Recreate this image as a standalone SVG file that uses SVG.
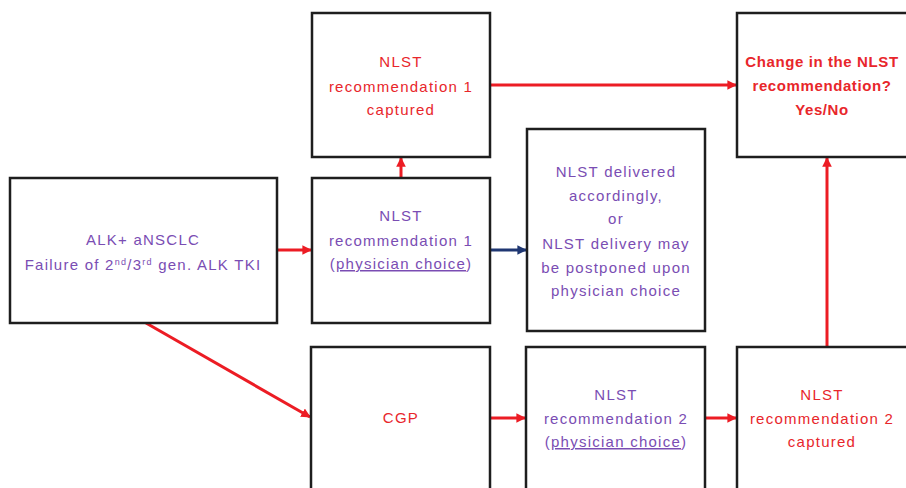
<svg xmlns="http://www.w3.org/2000/svg" width="906" height="488" viewBox="0 0 906 488">
<style>
.box{fill:#ffffff;stroke:#1e1e1e;stroke-width:2.5}
text{font-family:"Liberation Sans",Arial,sans-serif;font-size:15px;letter-spacing:1.25px;text-anchor:middle}
.p{fill:#7a4db3}
.r{fill:#e8262b}
.b{font-weight:bold;letter-spacing:0.6px}
.u{text-decoration:underline}
.ar{stroke:#ec1c24;stroke-width:3;fill:none}
.an{stroke:#1f3772;stroke-width:3;fill:none}
</style>
<defs>
<marker id="mr" viewBox="0 0 10 10" refX="9" refY="5" markerWidth="3.2" markerHeight="3.2" orient="auto" markerUnits="strokeWidth">
<path d="M0,0 L10,5 L0,10 z" fill="#ec1c24"/>
</marker>
<marker id="mn" viewBox="0 0 10 10" refX="9" refY="5" markerWidth="3.2" markerHeight="3.2" orient="auto" markerUnits="strokeWidth">
<path d="M0,0 L10,5 L0,10 z" fill="#1f3772"/>
</marker>
</defs>
<rect width="906" height="488" fill="#ffffff"/>
<g id="connectors">
<line class="ar" x1="277" y1="250" x2="311" y2="250" marker-end="url(#mr)"/>
<line class="ar" x1="401" y1="178" x2="401" y2="158" marker-end="url(#mr)"/>
<line class="ar" x1="490" y1="85" x2="736" y2="85" marker-end="url(#mr)"/>
<line class="an" x1="490" y1="250" x2="526" y2="250" marker-end="url(#mn)"/>
<line class="ar" x1="146" y1="323" x2="310" y2="417" marker-end="url(#mr)"/>
<line class="ar" x1="490" y1="418" x2="525" y2="418" marker-end="url(#mr)"/>
<line class="ar" x1="705" y1="418" x2="736" y2="418" marker-end="url(#mr)"/>
<line class="ar" x1="827" y1="347" x2="827" y2="158" marker-end="url(#mr)"/>
</g>
<g id="alk">
<rect class="box" x="10" y="178" width="267" height="145"/>
<text class="p" x="143" y="245">ALK+ aNSCLC</text>
<text class="p" x="143" y="270">Failure of 2<tspan font-size="9" dy="-5">nd</tspan><tspan dy="5">/3</tspan><tspan font-size="9" dy="-5">rd</tspan><tspan dy="5"> gen. ALK TKI</tspan></text>
</g>
<g id="rec1captured">
<rect class="box" x="312" y="13" width="178" height="144"/>
<text class="r" x="401" y="67">NLST</text>
<text class="r" x="401" y="92">recommendation 1</text>
<text class="r" x="401" y="115">captured</text>
</g>
<g id="rec1physician">
<rect class="box" x="312" y="178" width="178" height="145"/>
<text class="p" x="401" y="221">NLST</text>
<text class="p" x="401" y="246">recommendation 1</text>
<text class="p" x="401" y="269">(<tspan class="u">physician choice</tspan>)</text>
</g>
<g id="delivered">
<rect class="box" x="527" y="129" width="178" height="202"/>
<text class="p" x="616" y="177">NLST delivered</text>
<text class="p" x="616" y="201">accordingly,</text>
<text class="p" x="616" y="224">or</text>
<text class="p" x="616" y="249">NLST delivery may</text>
<text class="p" x="616" y="273">be postponed upon</text>
<text class="p" x="616" y="296">physician choice</text>
</g>
<g id="change">
<rect class="box" x="737" y="13" width="190" height="144"/>
<text class="r b" x="822" y="67">Change in the NLST</text>
<text class="r b" x="822" y="91">recommendation?</text>
<text class="r b" x="822" y="115">Yes/No</text>
</g>
<g id="cgp">
<rect class="box" x="311" y="347" width="179" height="160"/>
<text class="r" x="401" y="423">CGP</text>
</g>
<g id="rec2physician">
<rect class="box" x="526" y="347" width="179" height="160"/>
<text class="p" x="616" y="400">NLST</text>
<text class="p" x="616" y="424">recommendation 2</text>
<text class="p" x="616" y="447">(<tspan class="u">physician choice</tspan>)</text>
</g>
<g id="rec2captured">
<rect class="box" x="737" y="347" width="190" height="160"/>
<text class="r" x="822" y="400">NLST</text>
<text class="r" x="822" y="424">recommendation 2</text>
<text class="r" x="822" y="447">captured</text>
</g>
</svg>
